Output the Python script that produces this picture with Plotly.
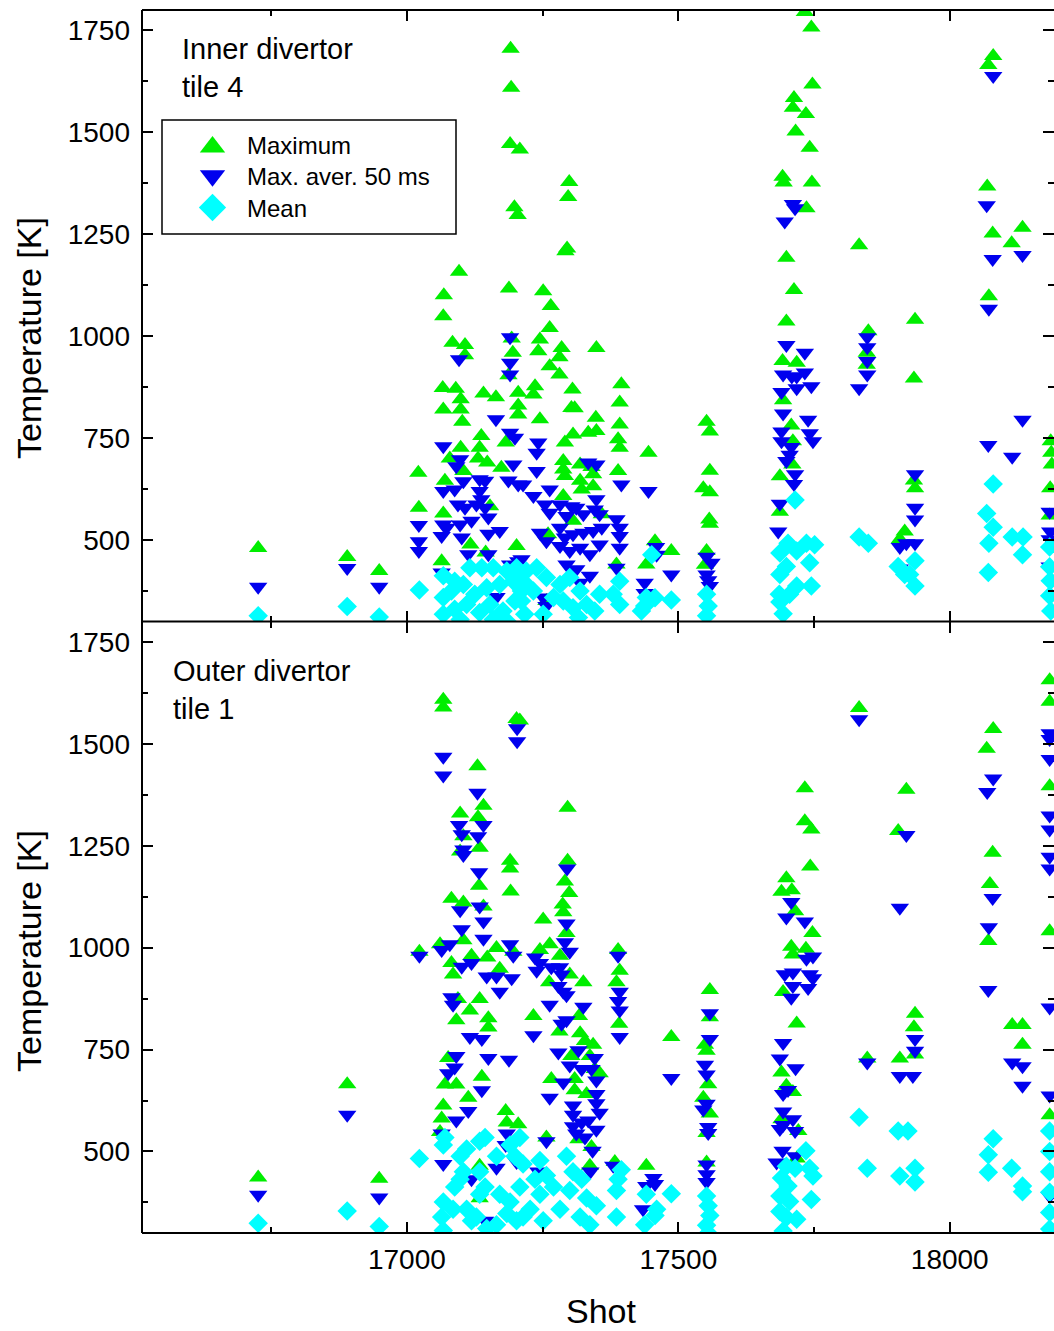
import plotly.graph_objects as go

# ---------------- data (shot number, temperature [K]) ----------------
# Inner divertor tile 4 (top panel)
inner_max_shot = [16726, 16890, 16949, 17021, 17022,
    17096, 17068, 17067, 17188, 17084, 17107, 17107, 17193, 17195, 17187, 17066, 17090, 17141, 17164, 17205,
    17067, 17099, 17099, 17205, 17205, 17102, 17182, 17137, 17099, 17134, 17079, 17131, 17148, 17174, 17070,
    17104, 17153, 17067, 17202, 17064, 17145, 17117,
    17191, 17192, 17190, 17208, 17198, 17204, 17299, 17297, 17295, 17292,
    17251, 17265, 17263, 17245, 17242, 17285, 17281, 17349, 17263, 17281, 17236, 17233, 17395, 17305, 17303,
    17309, 17392, 17245, 17348, 17392, 17334, 17349, 17306, 17291, 17389, 17392, 17445, 17288, 17288, 17291,
    17319, 17340, 17343, 17389, 17319, 17322, 17343, 17288, 17359, 17306, 17260, 17386, 17441, 17257,
    17457, 17487, 17552, 17558, 17558, 17546, 17558, 17557, 17558, 17552, 17549,
    17733, 17745, 17747, 17713, 17711, 17735, 17716, 17742, 17692, 17694, 17746, 17736, 17699, 17713, 17699,
    17692, 17718, 17693, 17708, 17711, 17710, 17687, 17687,
    17833, 17850, 17847, 17847, 17936, 17934, 17934, 17936, 17917, 17908, 18080, 18071, 18069, 18079, 18134,
    18114, 18072, 18186, 18187, 18188, 18185, 18184]
inner_max_temp = [480, 458, 424, 665, 579,
    1158, 1100, 1049, 1117, 984, 978, 953, 994, 959, 904, 873, 871, 859, 850, 861,
    820, 845, 820, 830, 808, 790, 739, 755, 726, 726, 700, 700, 690, 677, 645,
    669, 583, 565, 485, 448, 469, 489,
    1705, 1609, 1471, 1458, 1316, 1297, 1378, 1341, 1215, 1208,
    1110, 1074, 1020, 992, 963, 971, 948, 971, 926, 906, 877, 857, 882, 869, 824,
    823, 837, 796, 800, 783, 763, 767, 759, 739, 747, 726, 714, 694, 673, 657,
    685, 679, 661, 669, 645, 624, 632, 608, 563, 547, 514, 440, 440, 350,
    497, 473, 790, 766, 670, 627, 617, 550, 540, 473, 439,
    1795, 1757, 1617, 1584, 1560, 1545, 1502, 1462, 1391, 1377, 1377, 1314, 1192, 1113, 1036,
    939, 935, 843, 781, 742, 685, 656, 569,
    1223, 1012, 959, 930, 1040, 896, 646, 627, 521, 502, 1687, 1665, 1367, 1252, 1266,
    1228, 1098, 742, 714, 685, 627, 560]

inner_avg_shot = [16726, 16890, 16949, 17022, 17022, 17022,
    17096, 17190, 17190, 17190, 17164, 17190, 17199, 17067, 17098, 17091, 17196, 17187, 17205, 17214,
    17104, 17134, 17144, 17067, 17088, 17134, 17137, 17094, 17107, 17128, 17144, 17067, 17073, 17098, 17119,
    17150, 17064, 17101, 17150, 17171, 17113, 17150, 17205, 17190, 17064, 17165,
    17242, 17239, 17239, 17334, 17349, 17395, 17263, 17445, 17233, 17254, 17282, 17303, 17312, 17349, 17346,
    17263, 17294, 17325, 17355, 17386, 17392, 17392, 17245, 17257, 17282, 17291, 17306, 17325, 17343, 17359,
    17282, 17300, 17319, 17337, 17355, 17392, 17294, 17312, 17337, 17211, 17386, 17438, 17438, 17251, 17257,
    17319,
    17459, 17460, 17487, 17552, 17561, 17552, 17555, 17558, 17711, 17715, 17696, 17699, 17733, 17693, 17709,
    17718, 17733, 17745, 17690, 17718, 17693, 17739, 17742, 17748, 17690, 17690, 17708, 17705, 17699, 17715,
    17713, 17687, 17684,
    18080, 18068, 18079, 18134, 18072, 17848, 17848, 17848, 17848, 17833, 18134, 18071, 18115, 17936, 17936,
    17936, 17936, 17908, 17920, 17908, 18184, 18185, 18184, 18184]
inner_avg_temp = [385, 431, 385, 537, 497, 473,
    943, 997, 935, 906, 796, 763, 751, 730, 698, 681, 685, 646, 636, 636,
    644, 649, 645, 620, 624, 620, 600, 587, 579, 587, 579, 538, 530, 538, 547,
    555, 510, 506, 515, 522, 465, 465, 448, 440, 420, 360,
    739, 714, 669, 690, 685, 636, 624, 620, 608, 587, 587, 583, 579, 600, 575,
    567, 559, 563, 563, 551, 530, 510, 518, 497, 530, 506, 514, 518, 522, 530,
    485, 473, 481, 465, 489, 481, 440, 428, 412, 453, 432, 395, 370, 359, 338,
    395,
    483, 464, 415, 459, 444, 415, 401, 387, 1324, 1314, 1281, 978, 959, 906, 901,
    901, 911, 877, 863, 872, 810, 795, 762, 742, 766, 742, 728, 709, 694, 661,
    637, 589, 521,
    1638, 1321, 1189, 1199, 1067, 997, 973, 939, 906, 872, 795, 733, 704, 661, 579,
    550, 492, 483, 492, 430, 569, 521, 502, 435]

inner_mean_shot = [16726, 16890, 16949, 17023,
    17067, 17088, 17116, 17138, 17159, 17184, 17202, 17220,
    17067, 17082, 17104, 17125, 17147, 17171, 17196, 17211,
    17067, 17088, 17110, 17134, 17153, 17177, 17199, 17217,
    17098, 17159, 17184,
    17208, 17220, 17211, 17239, 17257, 17233, 17270, 17251, 17282, 17300, 17319, 17306, 17331, 17288, 17355,
    17346, 17316, 17392, 17380, 17392, 17432, 17441,
    17451, 17438, 17457, 17487, 17552, 17555, 17552, 17715, 17687, 17702, 17718, 17736, 17751, 17699, 17742,
    17687, 17686, 17705, 17718, 17745, 17693, 17687,
    17833, 17850, 17936, 17917, 17905, 17936, 17926, 18080, 18068, 18080, 18072, 18071, 18115, 18135, 18134,
    18184, 18184, 18185, 18184, 18186]
inner_mean_temp = [314, 337, 311, 377,
    412, 399, 432, 432, 432, 424, 432, 424,
    359, 375, 391, 367, 383, 391, 399, 375,
    318, 330, 342, 322, 342, 326, 350, 318,
    305, 305, 301,
    420, 391, 350, 432, 408, 375, 359, 318, 391, 408, 375, 334, 342, 350, 367,
    326, 310, 399, 367, 342, 326, 359,
    464, 338, 358, 353, 367, 338, 314, 598, 468, 492, 473, 492, 488, 435, 444,
    415, 367, 367, 387, 387, 319, 348,
    507, 492, 449, 415, 435, 387, 415, 637, 565, 531, 492, 420, 507, 507, 464,
    483, 434, 400, 363, 326]

# Outer divertor tile 1 (bottom panel)
outer_max_shot = [16726, 16890, 16949,
    17067, 17067, 17202, 17208, 17130, 17098, 17141, 17131, 17104, 17134, 17098, 17190, 17190, 17191, 17133,
    17082, 17104, 17141, 17023, 17061, 17104, 17082, 17085, 17119, 17148, 17165, 17171, 17196, 17094, 17134,
    17116, 17091, 17150, 17150, 17076, 17138, 17070, 17091, 17113, 17067, 17064, 17182, 17205, 17184, 17061,
    17134, 17134,
    17296, 17296, 17291, 17299, 17287, 17288, 17251, 17294, 17263, 17245, 17282, 17300, 17262, 17325, 17233,
    17281, 17317, 17319, 17328, 17343, 17303, 17266, 17309, 17309, 17337, 17346, 17355, 17331, 17389, 17392,
    17386, 17391, 17257, 17316, 17340, 17337, 17383, 17441,
    17487, 17558, 17558, 17549, 17552, 17555, 17546, 17558, 17552, 17552,
    17733, 17733, 17745, 17743, 17699, 17690, 17709, 17715, 17747, 17735, 17708, 17711, 17693, 17718, 17690,
    17711, 17699, 17690, 17721, 17718,
    17833, 17920, 17905, 18080, 18068, 18079, 18074, 18071, 17936, 17934, 17908, 17936, 17848, 18115, 18134,
    18134, 18184, 18184, 18184, 18184, 18184]
outer_max_temp = [436, 665, 433,
    1608, 1589, 1561, 1557, 1445, 1329, 1348, 1320, 1273, 1245, 1236, 1213, 1194, 1138, 1152,
    1120, 1111, 1101, 990, 1008, 1018, 962, 934, 980, 976, 999, 948, 990, 874, 874,
    846, 822, 827, 804, 729, 683, 664, 664, 632, 613, 581, 599, 567, 571, 548,
    465, 385,
    1343, 1213, 1162, 1134, 1106, 1087, 1069, 1036, 1008, 994, 980, 934, 915, 915, 832,
    794, 832, 790, 771, 762, 734, 678, 678, 650, 734, 702, 692, 641, 994, 943,
    915, 813, 534, 530, 511, 465, 474, 465,
    781, 896, 829, 762, 747, 665, 632, 593, 545, 473,
    1391, 1310, 1290, 1199, 1170, 1137, 1141, 1089, 1036, 997, 1002, 983, 891, 814, 694,
    646, 661, 579, 550, 483,
    1588, 1387, 1286, 1536, 1488, 1233, 1156, 1016, 838, 805, 728, 738, 728, 810, 810,
    762, 1656, 1603, 1396, 1040, 589]

outer_avg_shot = [16726, 16890, 16949,
    17067, 17067, 17203, 17203, 17130, 17096, 17101, 17104, 17104, 17141, 17131, 17133, 17098, 17101, 17134,
    17141, 17141, 17023, 17064, 17079, 17101, 17119, 17147, 17165, 17171, 17193, 17190, 17196, 17082, 17085,
    17116, 17138, 17150, 17188, 17091, 17088, 17076, 17138, 17113, 17091, 17064, 17067, 17184, 17182, 17202,
    17165, 17119, 17144,
    17295, 17294, 17291, 17300, 17236, 17245, 17239, 17266, 17282, 17285, 17279, 17288, 17294, 17263, 17325,
    17294, 17285, 17233, 17389, 17392, 17389, 17392, 17392, 17279, 17300, 17316, 17322, 17340, 17346, 17263,
    17288, 17306, 17306, 17306, 17349, 17349, 17349, 17355, 17322, 17334, 17312, 17328, 17349, 17342, 17338,
    17257, 17242, 17380, 17435,
    17487, 17454, 17457, 17441, 17558, 17558, 17549, 17552, 17552, 17546, 17555, 17555, 17552, 17552, 17552,
    17708, 17699, 17733, 17736, 17748, 17696, 17711, 17742, 17748, 17739, 17711, 17708, 17693, 17687, 17716,
    17702, 17693, 17693, 17693, 17711, 17715, 17687, 17692, 17715, 17681,
    17833, 17920, 17908, 18080, 18069, 18079, 18072, 18071, 17936, 17936, 17908, 17932, 17848, 18115, 18134,
    18134, 18184, 18184, 18184, 18184, 18184, 18184, 18184, 18184, 18184, 18184]
outer_avg_temp = [394, 590, 387,
    1468, 1422, 1538, 1506, 1380, 1301, 1278, 1241, 1227, 1301, 1273, 1185, 1092, 1045, 1101,
    1064, 1022, 980, 994, 1008, 953, 962, 929, 929, 892, 925, 1008, 980, 878, 860,
    781, 776, 729, 725, 734, 706, 692, 650, 599, 576, 544, 469, 544, 516, 474,
    460, 432, 330,
    1194, 1059, 1013, 990, 976, 962, 943, 952, 952, 934, 906, 892, 883, 860, 855,
    822, 813, 785, 980, 892, 869, 846, 781, 743, 711, 748, 702, 702, 729, 632,
    669, 613, 590, 562, 674, 641, 618, 595, 571, 576, 544, 534, 553, 502, 451,
    525, 451, 465, 358,
    680, 435, 420, 415, 839, 776, 713, 689, 617, 603, 560, 545, 468, 444, 425,
    1112, 1074, 1064, 973, 978, 935, 939, 935, 925, 901, 906, 877, 766, 728, 704,
    651, 641, 598, 565, 579, 550, 555, 502, 488, 473,
    1560, 1276, 1098, 1415, 1382, 1122, 1050, 896, 776, 747, 685, 685, 718, 718, 709,
    661, 1526, 1512, 1463, 1324, 1290, 1223, 1194, 853, 637, 391]

outer_mean_shot = [16726, 16890, 16949,
    17023, 17067, 17070, 17098, 17110, 17134, 17144, 17190, 17208, 17199, 17165, 17098, 17088, 17104, 17134,
    17144, 17134, 17067, 17064, 17085, 17110, 17119, 17171, 17190, 17184, 17202, 17165, 17067, 17147, 17128,
    17214, 17245, 17236, 17257, 17270, 17245, 17227, 17251, 17282, 17294, 17306, 17322, 17300, 17331, 17349,
    17319, 17337, 17395, 17389, 17386, 17386, 17441, 17438, 17208, 17214,
    17487, 17460, 17457, 17552, 17555, 17558, 17552, 17555, 17735, 17742, 17748, 17745, 17699, 17715, 17690,
    17702, 17687, 17705, 17687, 17718, 17699, 17693,
    17833, 17848, 17905, 17923, 17908, 17936, 17936, 18080, 18071, 18071, 18114, 18134, 18134,
    18184, 18184, 18184, 18184, 18184, 18184]
outer_mean_temp = [324, 354, 316,
    483, 516, 534, 488, 506, 525, 534, 516, 534, 488, 488, 432, 413, 450, 450,
    413, 395, 376, 339, 358, 358, 330, 395, 376, 348, 330, 320, 306, 311, 339,
    469, 478, 432, 441, 413, 395, 358, 330, 358, 488, 450, 432, 404, 386, 367,
    339, 320, 455, 432, 404, 339, 395, 320, 413, 339,
    396, 358, 343, 391, 367, 343, 319, 300, 502, 459, 440, 382, 464, 459, 435,
    415, 391, 377, 353, 334, 338, 305,
    584, 459, 550, 550, 440, 459, 425, 531, 492, 449, 459, 415, 401,
    550, 500, 450, 400, 350, 310]

series_names = ["Maximum", "Max. aver. 50 ms", "Mean"]
panel_labels = ["Inner divertor<br>tile 4", "Outer divertor<br>tile 1"]

# ---------------- style ----------------
FONT = "Liberation Sans, Arial, Helvetica, sans-serif"
GREEN, BLUE, CYAN = "#00ee00", "#0000ee", "#00ffff"
SYMS = ["triangle-up", "triangle-down", "diamond"]
COLS = [GREEN, BLUE, CYAN]
SIZES = [16, 16, 15]

fig = go.Figure()

def add_panel(series, xa, ya):
    for (xs, ys), sym, col, sz in zip(series, SYMS, COLS, SIZES):
        fig.add_trace(go.Scatter(x=xs, y=ys, mode="markers", xaxis=xa, yaxis=ya, showlegend=False,
                                 marker=dict(symbol=sym, color=col, size=sz, line=dict(width=0))))

add_panel([(inner_max_shot, inner_max_temp), (inner_avg_shot, inner_avg_temp),
           (inner_mean_shot, inner_mean_temp)], "x2", "y2")
add_panel([(outer_max_shot, outer_max_temp), (outer_avg_shot, outer_avg_temp),
           (outer_mean_shot, outer_mean_temp)], "x", "y")

# ---------------- manual legend (overlay axes in paper units) ----------------
leg_y = [0.888, 0.8644, 0.8385]
for sym, col, yy in zip(SYMS, COLS, leg_y):
    fig.add_trace(go.Scatter(x=[0.0773], y=[yy], mode="markers", xaxis="x3", yaxis="y3", showlegend=False,
                             marker=dict(symbol=sym, color=col, size=22 if sym != "diamond" else 21,
                                         line=dict(width=0))))

W, H = 1054, 1331
L, R, T, B = 142, 0, 10, 98

def px(xp):
    return (xp - L) / (W - L - R)

def py(yp):
    return (H - B - yp) / (H - T - B)

xcommon = dict(range=[16512, 18192], tickmode="linear", tick0=0, dtick=500, ticks="inside", ticklen=11,
               tickwidth=2, tickcolor="black", showline=False, mirror="ticks", tickformat="d",
               showgrid=False, zeroline=False,
               minor=dict(dtick=250, tick0=0, ticks="inside", ticklen=6, tickwidth=2, tickcolor="black"),
               tickfont=dict(family=FONT, size=28, color="black"), ticklabelstandoff=7)
ycommon = dict(range=[300, 1800], tickmode="linear", tick0=0, dtick=250, ticks="inside", ticklen=11,
               tickwidth=2, tickcolor="black", showline=False, mirror="ticks", showgrid=False, zeroline=False,
               minor=dict(dtick=125, tick0=0, ticks="inside", ticklen=6, tickwidth=2, tickcolor="black"),
               tickfont=dict(family=FONT, size=28, color="black"), ticklabelstandoff=11)

fig.update_layout(
    width=W, height=H, margin=dict(l=L, r=R, t=T, b=B, pad=0),
    paper_bgcolor="white", plot_bgcolor="rgba(0,0,0,0)", showlegend=False,
    font=dict(family=FONT, color="black"),
    xaxis=dict(xcommon, domain=[0, 1], anchor="y"),
    yaxis=dict(ycommon, domain=[0, 0.5], anchor="x"),
    xaxis2=dict(xcommon, domain=[0, 1], anchor="y2", matches="x", showticklabels=False),
    yaxis2=dict(ycommon, domain=[0.5, 1], anchor="x2"),
    xaxis3=dict(domain=[0, 1], range=[0, 1], visible=False, anchor="y3", fixedrange=True),
    yaxis3=dict(domain=[0, 1], range=[0, 1], visible=False, anchor="x3", fixedrange=True),
)

frame = dict(color="black", width=2)
shapes = [
    dict(type="line", xref="paper", yref="paper", x0=0, x1=0, y0=0, y1=1, line=frame),
    dict(type="line", xref="paper", yref="paper", x0=0, x1=1, y0=0, y1=0, line=frame),
    dict(type="line", xref="paper", yref="paper", x0=0, x1=1, y0=0.5, y1=0.5, line=frame),
    dict(type="line", xref="paper", yref="paper", x0=0, x1=1, y0=1, y1=1, line=frame),
    dict(type="rect", xref="paper", yref="paper", x0=px(162), x1=px(456), y0=py(234), y1=py(120),
         line=dict(color="black", width=1.5), fillcolor="rgba(0,0,0,0)"),
]
fig.update_layout(shapes=shapes)

ann = []
ann.append(dict(text="Temperature [K]", x=px(29), y=py(338), xref="paper", yref="paper", showarrow=False,
                textangle=-90, font=dict(size=34, family=FONT), xanchor="center", yanchor="middle"))
ann.append(dict(text="Temperature [K]", x=px(29), y=py(951), xref="paper", yref="paper", showarrow=False,
                textangle=-90, font=dict(size=34, family=FONT), xanchor="center", yanchor="middle"))
ann.append(dict(text="Shot", x=px(601), y=py(1311), xref="paper", yref="paper", showarrow=False,
                font=dict(size=34, family=FONT), xanchor="center", yanchor="middle"))
ann.append(dict(text=panel_labels[0], x=px(180), y=py(31), xref="paper", yref="paper", showarrow=False,
                font=dict(size=29, family=FONT), xanchor="left", yanchor="top", align="left"))
ann.append(dict(text=panel_labels[1], x=px(171), y=py(653), xref="paper", yref="paper", showarrow=False,
                font=dict(size=29, family=FONT), xanchor="left", yanchor="top", align="left"))
for name, yc in zip(series_names, [146, 177, 208]):
    ann.append(dict(text=name, x=px(245), y=py(yc), xref="paper", yref="paper", showarrow=False,
                    font=dict(size=24, family=FONT), xanchor="left", yanchor="middle"))
fig.update_layout(annotations=ann)

fig.write_html("out.html")
